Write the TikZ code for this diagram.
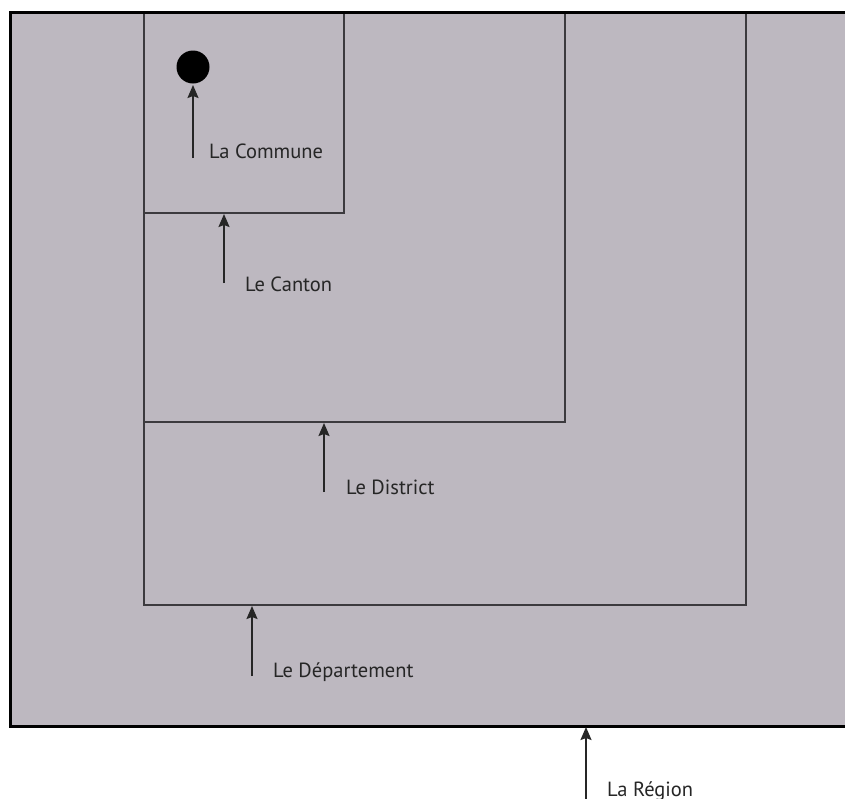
\documentclass[tikz,border=0pt]{standalone}
\usepackage{fontspec}
\setmainfont{PT Sans}
\usetikzlibrary{arrows.meta}
\definecolor{areafill}{HTML}{BDB8C0}
\definecolor{innerline}{HTML}{3C3A3E}
\begin{document}
\begin{tikzpicture}[x=1pt,y=-1pt,
  boxline/.style={draw=innerline,line width=1.8pt},
  outerline/.style={draw=black,line width=3pt},
  ptr/.style={draw=black!85,line width=1.8pt,-{Stealth[length=13pt,width=11pt,inset=2pt]}},
  lbl/.style={anchor=base west,inner sep=0pt,font=\fontsize{20.5}{24}\selectfont,text=black!85}]
\useasboundingbox (0,0) rectangle (845,798);
\fill[white] (0,0) rectangle (845,798);
% outer region
\fill[areafill] (10,12) rectangle (845,726);
% nested boxes
\draw[boxline] (144,12) rectangle (746,605);
\draw[boxline] (144,12) rectangle (565,422);
\draw[boxline] (144,12) rectangle (344,213);
\draw[outerline] (845,12) -- (10,12) -- (10,726) -- (845,726);
% commune dot
\node[circle,fill=black,minimum size=33pt,inner sep=0pt] (dot) at (193,67) {};
% targets
\coordinate (tCommune) at (193,85);
\coordinate (tCanton) at (224,214);
\coordinate (tDistrict) at (324,423);
\coordinate (tDept) at (252,606);
\coordinate (tRegion) at (586,727);
% tails
\coordinate (sCommune) at (193,158);
\coordinate (sCanton) at (224,283);
\coordinate (sDistrict) at (324,492);
\coordinate (sDept) at (252,676);
\coordinate (sRegion) at (586,800);
\draw[ptr] (sCommune) -- (tCommune);
\draw[ptr] (sCanton) -- (tCanton);
\draw[ptr] (sDistrict) -- (tDistrict);
\draw[ptr] (sDept) -- (tDept);
\draw[ptr] (sRegion) -- (tRegion);
% labels
\node[lbl] (lCommune) at (209,158) {La Commune};
\node[lbl] (lCanton) at (245,291) {Le Canton};
\node[lbl] (lDistrict) at (346,494) {Le District};
\node[lbl] (lDept) at (273,677) {Le Département};
\node[lbl] (lRegion) at (607,796) {La Région};
\end{tikzpicture}
\end{document}
